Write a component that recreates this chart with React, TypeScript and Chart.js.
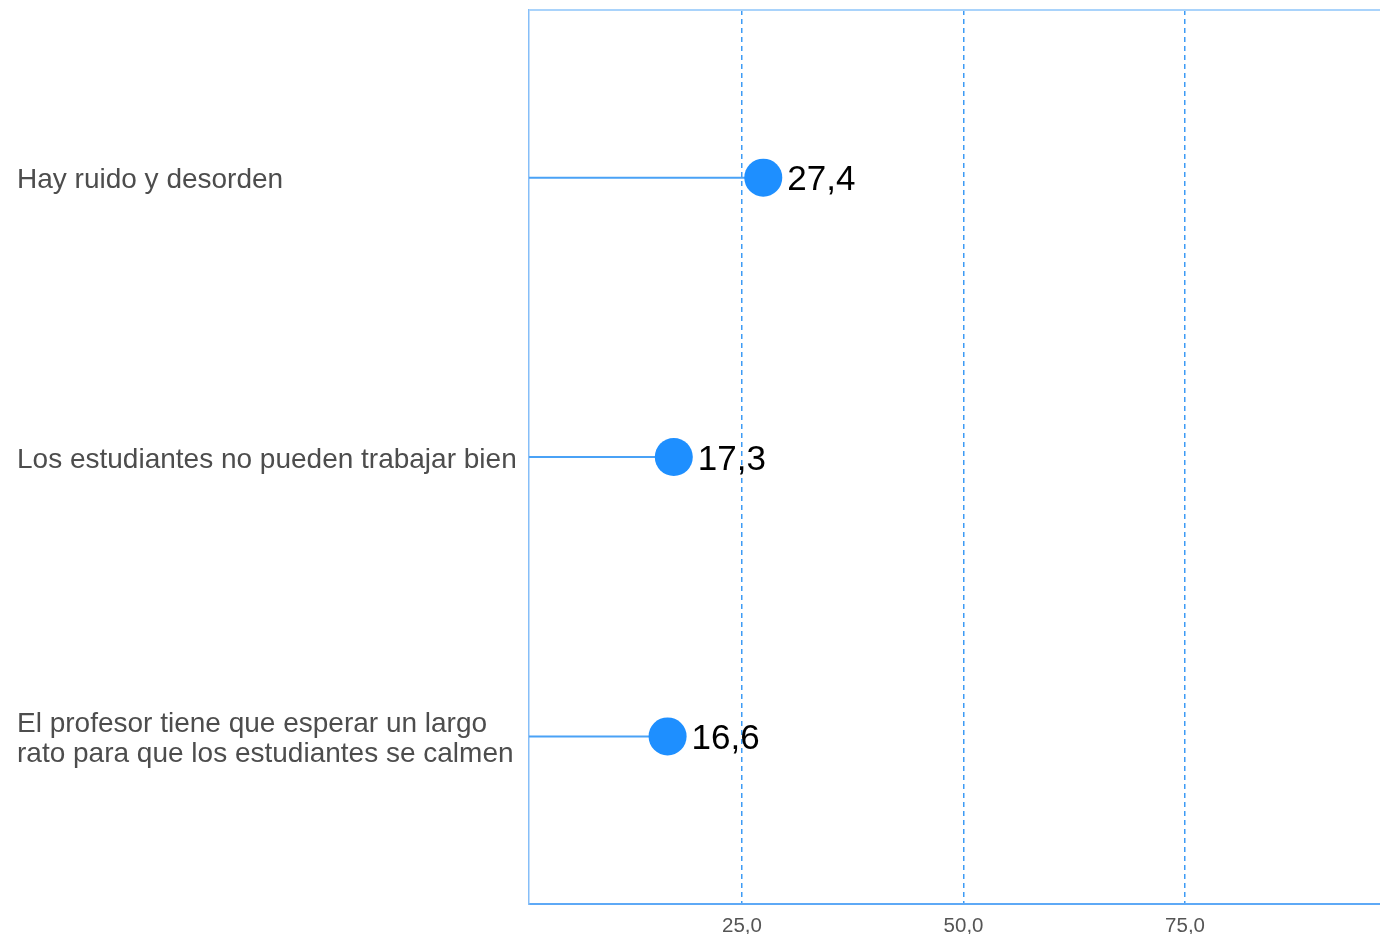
import React, { useEffect, useRef } from "react";
import { Chart, registerables } from "chart.js";

Chart.register(...registerables);

const categories: (string | string[])[] = [
  "Hay ruido y desorden",
  "Los estudiantes no pueden trabajar bien",
  ["El profesor tiene que esperar un largo", "rato para que los estudiantes se calmen"],
];
const positions = [1, 2, 3];
const values = [27.4, 17.3, 16.6];
const xTicks = [25, 50, 75];

const FONT = "'Liberation Sans', Arial, sans-serif";
const fmt = (v: number) => v.toFixed(1).replace(".", ",");

const lollipopPlugin = {
  id: "lollipop",
  beforeDatasetsDraw(chart: any) {
    const { ctx, chartArea, scales } = chart;
    ctx.save();
    ctx.strokeStyle = "#4aa2f6";
    ctx.lineWidth = 2;
    values.forEach((v, i) => {
      const y = scales.y.getPixelForValue(positions[i]);
      const x = scales.x.getPixelForValue(v);
      ctx.beginPath();
      ctx.moveTo(chartArea.left, y);
      ctx.lineTo(x, y);
      ctx.stroke();
    });
    ctx.strokeStyle = "#a9d3fb";
    ctx.lineWidth = 2;
    ctx.beginPath();
    ctx.moveTo(chartArea.left, chartArea.top);
    ctx.lineTo(chartArea.right, chartArea.top);
    ctx.stroke();
    ctx.restore();
  },
  afterDatasetsDraw(chart: any) {
    const { ctx, scales } = chart;
    ctx.save();
    ctx.fillStyle = "#000000";
    ctx.font = `35px ${FONT}`;
    ctx.textAlign = "left";
    ctx.textBaseline = "middle";
    values.forEach((v, i) => {
      const y = scales.y.getPixelForValue(positions[i]);
      const x = scales.x.getPixelForValue(v);
      ctx.fillText(fmt(v), x + 24, y + 3);
    });
    ctx.restore();
  },
};

const zeroPad = (s: any) => {
  s.paddingTop = 0;
  s.paddingBottom = 0;
  s.paddingLeft = 0;
  s.paddingRight = 0;
};

export default function App() {
  const ref = useRef<HTMLCanvasElement | null>(null);
  useEffect(() => {
    document.body.style.margin = "0";
    if (!ref.current) return;
    const chart = new Chart(ref.current, {
      type: "scatter",
      data: {
        datasets: [
          {
            data: values.map((v, i) => ({ x: v, y: positions[i] })),
            backgroundColor: "#1e8fff",
            borderWidth: 0,
            pointRadius: 19,
            pointHoverRadius: 19,
            clip: false,
          },
        ],
      },
      options: {
        animation: false,
        responsive: false,
        devicePixelRatio: 1,
        layout: { autoPadding: false, padding: { top: 10, left: 17, right: 0, bottom: 0 } },
        plugins: { legend: { display: false }, tooltip: { enabled: false } },
        scales: {
          x: {
            type: "linear",
            min: 0.96,
            max: 97,
            afterBuildTicks: (s: any) => {
              s.ticks = xTicks.map((v) => ({ value: v }));
            },
            afterFit: (s: any) => {
              s.height = 30;
              zeroPad(s);
            },
            ticks: {
              callback: (v: any) => fmt(Number(v)),
              font: { family: FONT, size: 20.5 },
              color: "#555555",
              padding: 10,
              maxRotation: 0,
            },
            grid: {
              display: true,
              color: "#3d9bf5",
              lineWidth: 1.5,
              drawTicks: false,
            },
            border: { display: true, color: "#5ea9f6", width: 2, dash: [5, 4] },
          },
          y: {
            type: "linear",
            min: 0.4,
            max: 3.6,
            reverse: true,
            afterBuildTicks: (s: any) => {
              s.ticks = positions.map((v) => ({ value: v }));
            },
            afterFit: (s: any) => {
              s.width = 512;
              zeroPad(s);
            },
            ticks: {
              callback: (_v: any, i: number) => categories[i],
              font: { family: FONT, size: 28, lineHeight: 1.07 },
              color: "#4d4d4d",
              crossAlign: "far",
              padding: 8,
              labelOffset: 3,
            },
            grid: { display: false, drawTicks: false },
            border: { display: true, color: "#86bef8", width: 1.5 },
          },
        },
      },
      plugins: [lollipopPlugin],
    } as any);
    return () => chart.destroy();
  }, []);
  return (
    <div style={{ width: 1380, height: 934 }}>
      <canvas ref={ref} width={1380} height={934} style={{ display: "block" }} />
    </div>
  );
}
